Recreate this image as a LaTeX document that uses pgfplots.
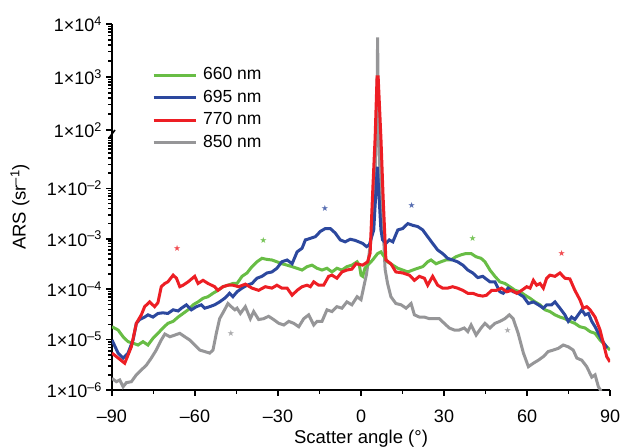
\documentclass[border=0pt]{standalone}
\usepackage{fontspec}
\setmainfont{Liberation Sans}
\newfontfamily\dejavu{DejaVu Sans}
\usepackage{pgfplots}
\pgfplotsset{compat=1.18}
\usepackage{pgfplotstable}

\definecolor{cgreen}{RGB}{104,189,69}
\definecolor{cblue}{RGB}{44,72,158}
\definecolor{cred}{RGB}{237,30,36}
\definecolor{cgray}{RGB}{150,150,152}

% broken log axis: values below 1 on log10 scale, values above 1 shifted down
\newcommand{\Yexpr}{(\thisrow{v}<1 ? ln(\thisrow{v})/ln(10) : -0.841+1.0516*(ln(\thisrow{v})/ln(10)-2))}

\pgfplotstableread[row sep=\\]{a v\\
-90.0 9.8e-6\\ -87.8 5.4e-6\\ -86.0 4.3e-6\\ -84.2 5.4e-6\\ -82.4 9.8e-6\\ -81.2 2.1e-5\\ -80.0 2.5e-5\\ -78.2 2.8e-5\\ -77.0 3.1e-5\\ -75.2 2.8e-5\\
-73.4 3.3e-5\\ -71.6 3.4e-5\\ -69.8 3.3e-5\\ -67.9 3.9e-5\\ -66.1 3.7e-5\\ -64.9 4.2e-5\\ -63.1 4.9e-5\\ -61.3 3.9e-5\\ -59.5 4.5e-5\\ -57.7 4.9e-5\\
-56.5 4.2e-5\\ -54.7 4.5e-5\\ -52.9 4.9e-5\\ -51.1 5.6e-5\\ -49.3 6.6e-5\\ -47.5 8.3e-5\\ -46.3 7.1e-5\\ -44.8 8.9e-5\\ -43.0 1.05e-4\\ -41.2 1.2e-4\\
-39.4 1.3e-4\\ -37.6 1.65e-4\\ -35.8 1.8e-4\\ -34.0 2.1e-4\\ -32.2 2.2e-4\\ -30.4 2.6e-4\\ -28.6 3.5e-4\\ -26.7 3.8e-4\\ -24.9 3.2e-4\\ -23.1 5.5e-4\\
-21.3 6.5e-4\\ -20.1 9.5e-4\\ -18.3 1.02e-3\\ -16.5 1.1e-3\\ -14.7 1.4e-3\\ -12.9 1.6e-3\\ -11.1 1.6e-3\\ -9.3 1.3e-3\\ -7.5 9.5e-4\\ -5.7 8.7e-4\\
-3.9 9.8e-4\\ -2.1 9.3e-4\\ 0.6 8.1e-4\\ 2.0 7.0e-4\\ 3.0 7.6e-4\\ 4.6 1.5e-3\\ 5.9 2.7e-2\\ 7.2 1.5e-3\\ 7.8 9.5e-4\\ 9.0 8.1e-4\\
10.2 9.5e-4\\ 11.5 8.7e-4\\ 13.3 1.5e-3\\ 15.1 1.6e-3\\ 16.9 2.0e-3\\ 18.7 1.85e-3\\ 20.5 1.75e-3\\ 22.3 1.5e-3\\ 24.1 1.1e-3\\ 25.9 8.1e-4\\
27.7 6.0e-4\\ 29.5 5.1e-4\\ 31.3 4.1e-4\\ 33.1 3.8e-4\\ 34.9 3.5e-4\\ 36.8 3.0e-4\\ 38.6 2.4e-4\\ 40.4 2.1e-4\\ 42.2 1.7e-4\\ 44.0 1.8e-4\\
46.6 1.4e-4\\ 48.4 1.4e-4\\ 50.2 8.9e-5\\ 51.4 8.3e-5\\ 53.2 1.05e-4\\ 55.0 8.9e-5\\ 56.8 8.3e-5\\ 58.7 7.1e-5\\ 60.5 5.2e-5\\ 62.3 5.6e-5\\
64.1 4.9e-5\\ 65.9 4.2e-5\\ 67.1 4.9e-5\\ 68.9 4.9e-5\\ 70.1 5.6e-5\\ 71.9 4.2e-5\\ 73.7 3.1e-5\\ 74.9 2.3e-5\\ 76.1 2.8e-5\\ 77.3 2.5e-5\\
78.5 3.1e-5\\ 79.8 3.9e-5\\ 81.0 3.1e-5\\ 82.2 3.3e-5\\ 83.4 2.3e-5\\ 84.6 1.8e-5\\ 85.8 1.33e-5\\ 87.0 9.8e-6\\ 89.0 6.8e-6\\
}\tblue

\pgfplotstableread[row sep=\\]{a v\\
-90.0 1.8e-5\\ -87.8 1.55e-5\\ -86.0 1.14e-5\\ -84.2 9.1e-6\\ -82.4 8.5e-6\\ -80.6 7.8e-6\\ -78.8 9.1e-6\\ -77.0 7.8e-6\\ -75.2 1.06e-5\\ -73.4 1.33e-5\\
-71.6 1.7e-5\\ -69.8 2.1e-5\\ -67.9 2.3e-5\\ -66.1 2.8e-5\\ -64.3 3.3e-5\\ -62.5 3.9e-5\\ -60.7 4.9e-5\\ -58.9 5.6e-5\\ -57.1 6.6e-5\\ -55.3 7.1e-5\\
-53.5 8.3e-5\\ -51.7 9.5e-5\\ -49.9 1.12e-4\\ -48.1 1.2e-4\\ -46.3 1.3e-4\\ -44.8 1.3e-4\\ -43.0 1.8e-4\\ -41.2 2.1e-4\\ -39.4 2.8e-4\\ -37.6 3.5e-4\\
-35.8 4.1e-4\\ -34.0 3.9e-4\\ -32.2 3.8e-4\\ -30.4 3.5e-4\\ -28.6 3.2e-4\\ -26.7 3.0e-4\\ -24.9 2.8e-4\\ -23.1 2.6e-4\\ -21.3 2.4e-4\\ -19.5 2.8e-4\\
-17.7 3.0e-4\\ -15.9 2.6e-4\\ -14.1 2.4e-4\\ -12.3 2.6e-4\\ -10.5 2.2e-4\\ -8.7 2.6e-4\\ -6.9 2.4e-4\\ -5.1 2.8e-4\\ -3.3 3.0e-4\\ -1.4 3.5e-4\\
-0.6 3.0e-4\\ 0.0 1.9e-4\\ 0.6 1.8e-4\\ 1.4 2.6e-4\\ 2.4 3.0e-4\\ 4.2 3.8e-4\\ 6.0 5.1e-4\\ 7.2 5.5e-4\\ 8.4 4.4e-4\\ 9.6 3.5e-4\\
11.5 3.0e-4\\ 13.3 2.6e-4\\ 15.1 2.4e-4\\ 16.9 2.2e-4\\ 18.7 2.4e-4\\ 20.5 2.6e-4\\ 22.3 2.8e-4\\ 24.1 3.5e-4\\ 25.3 3.8e-4\\ 27.1 3.2e-4\\
28.9 3.5e-4\\ 30.7 3.8e-4\\ 32.5 3.8e-4\\ 34.3 4.4e-4\\ 36.1 4.8e-4\\ 37.9 5.1e-4\\ 39.8 5.1e-4\\ 41.6 4.4e-4\\ 43.4 4.1e-4\\ 44.8 3.5e-4\\
46.6 2.4e-4\\ 48.4 1.8e-4\\ 50.2 1.4e-4\\ 52.0 1.3e-4\\ 53.8 1.12e-4\\ 55.7 9.5e-5\\ 57.5 8.9e-5\\ 59.3 7.6e-5\\ 61.1 6.6e-5\\ 62.9 5.6e-5\\
64.7 4.9e-5\\ 66.5 3.9e-5\\ 68.3 3.6e-5\\ 70.1 3.1e-5\\ 71.9 2.8e-5\\ 73.7 2.6e-5\\ 75.5 2.3e-5\\ 77.3 2.1e-5\\ 79.1 1.8e-5\\ 81.0 1.7e-5\\
82.8 1.44e-5\\ 84.6 1.33e-5\\ 86.4 9.8e-6\\ 88.2 7.8e-6\\ 90.0 6.2e-6\\
}\tgreen

\pgfplotstableread[row sep=\\]{a v\\
-90.0 5.4e-6\\ -85.4 3.4e-6\\ -83.0 7.2e-6\\ -81.2 2.1e-5\\ -79.4 3.1e-5\\ -78.2 4.5e-5\\ -76.4 5.6e-5\\ -74.6 4.5e-5\\ -73.4 5.4e-5\\ -72.2 1.12e-4\\
-70.9 1.3e-4\\ -69.8 1.4e-4\\ -67.9 1.9e-4\\ -66.7 1.65e-4\\ -65.5 1.12e-4\\ -64.3 1.2e-4\\ -62.5 1.4e-4\\ -60.1 1.8e-4\\ -58.9 1.3e-4\\ -57.1 1.5e-4\\
-55.3 1.3e-4\\ -52.9 1.12e-4\\ -51.7 9.5e-5\\ -49.9 1.12e-4\\ -48.1 1.2e-4\\ -46.3 1.2e-4\\ -44.2 1.12e-4\\ -41.8 1.26e-4\\ -39.4 1.05e-4\\ -37.0 9.5e-5\\
-34.6 1.12e-4\\ -32.2 1.05e-4\\ -30.4 1.2e-4\\ -28.6 1.05e-4\\ -26.7 1.05e-4\\ -24.9 7.6e-5\\ -23.1 9.5e-5\\ -21.3 1.12e-4\\ -19.5 1.2e-4\\ -18.3 1.12e-4\\
-17.1 1.4e-4\\ -15.3 1.2e-4\\ -13.5 1.2e-4\\ -11.7 1.8e-4\\ -10.5 1.9e-4\\ -8.7 1.65e-4\\ -6.9 2.2e-4\\ -5.1 2.4e-4\\ -3.3 2.5e-4\\ -1.8 3.2e-4\\
0.6 3.0e-4\\ 2.4 3.5e-4\\ 3.3 5.2e-4\\ 4.2 8.0e-3\\ 5.1 1e-1\\ 5.8 1e3\\ 6.2 1e3\\ 7.2 1e-1\\ 8.0 6.5e-3\\ 9.0 3.8e-4\\
10.8 3.2e-4\\ 12.6 2.2e-4\\ 15.1 2.1e-4\\ 17.5 1.9e-4\\ 19.3 1.5e-4\\ 21.1 1.8e-4\\ 22.9 1.65e-4\\ 24.1 1.2e-4\\ 25.9 1.8e-4\\ 27.7 1.2e-4\\
29.5 1.05e-4\\ 31.3 1.05e-4\\ 33.1 1.12e-4\\ 34.9 1.05e-4\\ 36.8 9.5e-5\\ 38.6 8.3e-5\\ 40.4 8.3e-5\\ 42.2 7.6e-5\\ 44.0 7.3e-5\\ 45.4 7.6e-5\\
47.2 9.5e-5\\ 49.0 9.5e-5\\ 50.8 1.05e-4\\ 52.7 8.9e-5\\ 54.5 9.5e-5\\ 56.3 8.3e-5\\ 58.1 9.5e-5\\ 59.9 1.12e-4\\ 61.1 1.05e-4\\ 62.3 1.5e-4\\
63.5 1.2e-4\\ 64.7 1.3e-4\\ 65.9 1.05e-4\\ 67.1 1.65e-4\\ 68.3 1.9e-4\\ 70.1 1.8e-4\\ 71.9 2.1e-4\\ 73.7 1.65e-4\\ 75.5 1.6e-4\\ 77.3 9.5e-5\\
79.1 6.2e-5\\ 80.3 4.2e-5\\ 81.6 4.5e-5\\ 82.8 3.9e-5\\ 84.6 2.8e-5\\ 86.4 1.55e-5\\ 87.6 8.5e-6\\ 88.8 4.6e-6\\ 90.0 3.6e-6\\
}\tred

\pgfplotstableread[row sep=\\]{a v\\
-90.0 1.7e-6\\ -88.4 1.46e-6\\ -87.2 1.58e-6\\ -86.0 1.16e-6\\ -84.8 1.4e-6\\ -83.0 1.46e-6\\ -81.2 2.0e-6\\ -79.4 2.5e-6\\ -77.6 3.1e-6\\ -75.8 4.3e-6\\
-74.0 6.2e-6\\ -72.2 9.8e-6\\ -70.9 1.29e-5\\ -69.1 1.14e-5\\ -67.3 1.23e-5\\ -65.5 1.33e-5\\ -63.7 1.14e-5\\ -61.9 9.8e-6\\ -60.1 7.8e-6\\ -58.3 6.2e-6\\
-56.5 5.8e-6\\ -54.7 5.4e-6\\ -53.5 6.2e-6\\ -52.3 1.33e-5\\ -51.1 2.6e-5\\ -49.3 3.9e-5\\ -48.1 5.2e-5\\ -46.9 4.5e-5\\ -45.6 3.9e-5\\ -44.8 4.2e-5\\
-43.6 3.3e-5\\ -41.8 4.5e-5\\ -40.0 2.6e-5\\ -38.8 3.6e-5\\ -37.0 2.5e-5\\ -35.2 2.6e-5\\ -33.4 2.9e-5\\ -31.6 2.5e-5\\ -29.7 2.1e-5\\ -27.9 1.95e-5\\
-26.1 2.3e-5\\ -24.3 2.1e-5\\ -22.5 1.8e-5\\ -20.7 2.6e-5\\ -18.9 3.1e-5\\ -17.1 1.95e-5\\ -15.9 2.3e-5\\ -14.1 2.3e-5\\ -12.3 3.9e-5\\ -10.5 3.6e-5\\
-8.7 4.5e-5\\ -6.9 4.2e-5\\ -5.1 5.6e-5\\ -3.3 4.9e-5\\ -1.4 7.1e-5\\ 0.0 6.2e-5\\ 2.0 2.0e-4\\ 3.9 1.3e-3\\ 5.0 1e-2\\ 5.5 1e-1\\
5.75 2e2\\ 6.0 5.6e3\\ 6.25 2e2\\ 6.5 1e-1\\ 7.0 1e-2\\ 8.1 1.3e-3\\ 8.7 2.5e-4\\ 9.6 1.3e-4\\ 10.8 7.1e-5\\ 12.6 5.2e-5\\
14.5 4.9e-5\\ 16.3 4.2e-5\\ 18.1 5.2e-5\\ 19.3 3.1e-5\\ 21.1 2.8e-5\\ 22.9 2.8e-5\\ 24.7 2.6e-5\\ 26.5 2.6e-5\\ 28.3 2.6e-5\\ 30.1 2.1e-5\\
31.9 1.7e-5\\ 33.7 1.55e-5\\ 35.5 1.55e-5\\ 37.3 1.7e-5\\ 38.6 1.44e-5\\ 39.8 1.95e-5\\ 41.6 1.23e-5\\ 43.4 1.7e-5\\ 44.8 2.1e-5\\ 46.6 1.7e-5\\
48.4 2.1e-5\\ 50.2 2.3e-5\\ 52.0 2.6e-5\\ 53.6 3.1e-5\\ 55.0 2.6e-5\\ 56.8 1.33e-5\\ 58.7 5.4e-6\\ 60.5 2.9e-6\\ 62.3 3.4e-6\\ 64.1 3.9e-6\\
65.9 4.6e-6\\ 67.7 5.8e-6\\ 69.5 6.2e-6\\ 71.3 6.7e-6\\ 73.1 7.8e-6\\ 74.9 7.2e-6\\ 76.7 6.2e-6\\ 78.0 4.3e-6\\ 79.8 3.9e-6\\ 81.6 2.9e-6\\
83.4 1.8e-6\\ 84.6 2.0e-6\\ 85.8 1.16e-6\\ 86.8 9.5e-7\\
}\tgray

% star markers
\pgfplotstableread[row sep=\\]{a v\\ -66.4 6.5e-4\\ 72.5 5.2e-4\\}\sred
\pgfplotstableread[row sep=\\]{a v\\ -35.3 9.1e-4\\ 40.4 1.0e-3\\}\sgreen
\pgfplotstableread[row sep=\\]{a v\\ -13.0 4.0e-3\\ 18.3 4.5e-3\\}\sblue
\pgfplotstableread[row sep=\\]{a v\\ -47.0 1.3e-5\\ 53.0 1.5e-5\\}\sgray

\pgfplotsset{starmark/.style={only marks, forget plot, mark=text, text mark={★}, text mark as node=true,
  text mark style={font=\dejavu\fontsize{8.5bp}{8.5bp}\selectfont, text=#1, inner sep=0pt}}}

\begin{document}
\begin{tikzpicture}
\useasboundingbox (-112bp,-58bp) rectangle (509bp,390bp);
\begin{axis}[
  scale only axis, width=498bp, height=366bp,
  at={(0,0)}, anchor=south west,
  xmin=-90, xmax=90, ymin=-6, ymax=1.262,
  axis x line*=bottom, axis y line*=left,
  axis line style={line width=2.6bp, black},
  clip mode=individual,
  xtick={-90,-60,-30,0,30,60,90},
  xticklabels={–90,–60,–30,0,30,60,90},
  minor xtick={-75,-45,-15,15,45,75},
  ytick={-6,-5,-4,-3,-2,-0.841,0.2106,1.262},
  yticklabels={1×10\textsuperscript{–6},1×10\textsuperscript{–5},1×10\textsuperscript{–4},1×10\textsuperscript{–3},1×10\textsuperscript{–2},1×10\textsuperscript{2},1×10\textsuperscript{3},1×10\textsuperscript{4}},
  minor ytick={-5.69897,-5.52288,-5.39794,-5.30103,-5.22185,-5.1549,-5.09691,-5.04576,
    -4.69897,-4.52288,-4.39794,-4.30103,-4.22185,-4.1549,-4.09691,-4.04576,
    -3.69897,-3.52288,-3.39794,-3.30103,-3.22185,-3.1549,-3.09691,-3.04576,
    -2.69897,-2.52288,-2.39794,-2.30103,-2.22185,-2.1549,-2.09691,-2.04576,
    -1.69897,-1.52288,-1.39794,-1.30103,-1.22185,-1.1549,-1.09691,-1.04576,-1,
    -0.5244,-0.3393,-0.2079,-0.106,-0.0227,0.0477,0.1087,0.1625,
    0.5272,0.7123,0.8437,0.9456,1.0289,1.0993,1.1603,1.2141},
  tick align=outside,
  major tick length=5.5bp, minor tick length=3.5bp,
  every tick/.style={black, line width=1.5bp},
  tick label style={font=\fontsize{18bp}{20bp}\selectfont},
  xticklabel style={yshift=-11bp},
  yticklabel style={xshift=-1bp},
  xlabel={Scatter angle (°)},
  ylabel={ARS (sr\textsuperscript{–1})},
  label style={font=\fontsize{18.5bp}{22bp}\selectfont},
  xlabel style={at={(axis description cs:0.5,-0.1475)}, anchor=base},
  ylabel style={at={(axis description cs:-0.1847,0.5)}, anchor=center},
  legend style={at={(axis description cs:0.0803,0.8852)}, anchor=north west,
    draw=none, fill=none, inner sep=0pt, row sep=4.5bp,
    font=\fontsize{17.5bp}{20bp}\selectfont,
    nodes={inner sep=1bp, text height=12.5bp, text depth=3.5bp},
    /tikz/every odd column/.append style={column sep=5bp}},
  legend cell align=left,
  legend image code/.code={\draw[#1] (0bp,0bp) -- (42bp,0bp);},
]
\addlegendimage{cgreen, line width=3bp}
\addlegendentry{660 nm}
\addlegendimage{cblue, line width=3bp}
\addlegendentry{695 nm}
\addlegendimage{cred, line width=3bp}
\addlegendentry{770 nm}
\addlegendimage{cgray, line width=3bp}
\addlegendentry{850 nm}

\addplot[cgray, line width=3bp, forget plot] table[x=a, y expr=\Yexpr] {\tgray};
\addplot[cgreen, line width=3bp, forget plot] table[x=a, y expr=\Yexpr] {\tgreen};
\addplot[cblue, line width=3bp, forget plot] table[x=a, y expr=\Yexpr] {\tblue};
\addplot[cred, line width=3bp, forget plot] table[x=a, y expr=\Yexpr] {\tred};

\addplot[starmark=cred!80] table[x=a, y expr=\Yexpr] {\sred};
\addplot[starmark=cgreen!90] table[x=a, y expr=\Yexpr] {\sgreen};
\addplot[starmark=cblue!80] table[x=a, y expr=\Yexpr] {\sblue};
\addplot[starmark=cgray!80] table[x=a, y expr=\Yexpr] {\sgray};
\end{axis}
% axis break mark
\draw[line width=1.6bp, black] (-3bp,252bp) -- (3bp,260bp);
\end{tikzpicture}
\end{document}
